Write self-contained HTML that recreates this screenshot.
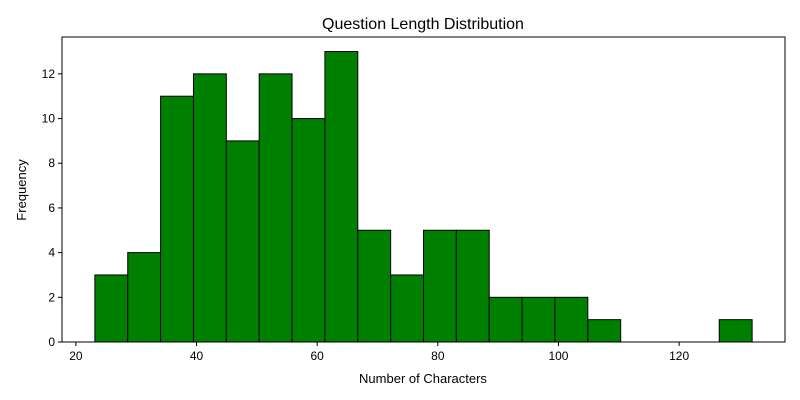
<!DOCTYPE html>
<html><head><meta charset="utf-8"><style>
body{margin:0;background:#fff}
svg{display:block;font-family:"Liberation Sans","DejaVu Sans",sans-serif}
</style></head><body>
<svg id="chart" width="800" height="400">
<text x="423" y="29" text-anchor="middle" font-size="16">Question Length Distribution</text>
<text x="423" y="383" text-anchor="middle" font-size="13">Number of Characters</text>
<text transform="translate(26,190) rotate(-90)" text-anchor="middle" font-size="13">Frequency</text>
<g id="bars"></g><g id="ticks"></g>
<rect x="62" y="37" width="723" height="305" fill="none" stroke="#000" stroke-width="1"/>
</svg>
<script>
const binStart = 23.15;
const binWidth = 5.4475;
const counts = [3,4,11,12,9,12,10,13,5,3,5,5,2,2,2,1,0,0,0,1];
const xTicks = [20,40,60,80,100,120];
const yTicks = [0,2,4,6,8,10,12];
const L=62,R=785,T=37,B=342,xmin=17.7,xmax=137.55,ymax=13.65;
const sx=v=>L+(v-xmin)/(xmax-xmin)*(R-L);
const sy=v=>B-v/ymax*(B-T);
const NS="http://www.w3.org/2000/svg";
const bars=document.getElementById('bars'),ticks=document.getElementById('ticks');
counts.forEach((c,i)=>{
  if(c<=0)return;
  const r=document.createElementNS(NS,'rect');
  const x0=sx(binStart+i*binWidth),x1=sx(binStart+(i+1)*binWidth);
  r.setAttribute('x',x0);r.setAttribute('y',sy(c));
  r.setAttribute('width',x1-x0);r.setAttribute('height',sy(0)-sy(c));
  r.setAttribute('fill','#008000');r.setAttribute('stroke','#000');r.setAttribute('stroke-width','1');
  
  
  bars.appendChild(r);
});
xTicks.forEach(t=>{
  const x=sx(t);
  const l=document.createElementNS(NS,'line');
  l.setAttribute('x1',x);l.setAttribute('x2',x);l.setAttribute('y1',B);l.setAttribute('y2',B+4);l.setAttribute('stroke','#000');
  
  
  ticks.appendChild(l);
  const tx=document.createElementNS(NS,'text');
  tx.setAttribute('x',x);tx.setAttribute('y',B+18);tx.setAttribute('text-anchor','middle');tx.setAttribute('font-size','12');
  tx.textContent=t;
  
  
  ticks.appendChild(tx);
});
yTicks.forEach(t=>{
  const y=sy(t);
  const l=document.createElementNS(NS,'line');
  l.setAttribute('x1',L-4);l.setAttribute('x2',L);l.setAttribute('y1',y);l.setAttribute('y2',y);l.setAttribute('stroke','#000');
  
  
  ticks.appendChild(l);
  const tx=document.createElementNS(NS,'text');
  tx.setAttribute('x',L-7);tx.setAttribute('y',y+4);tx.setAttribute('text-anchor','end');tx.setAttribute('font-size','12');
  tx.textContent=t;
  
  
  ticks.appendChild(tx);
});
</script>
</body></html>
